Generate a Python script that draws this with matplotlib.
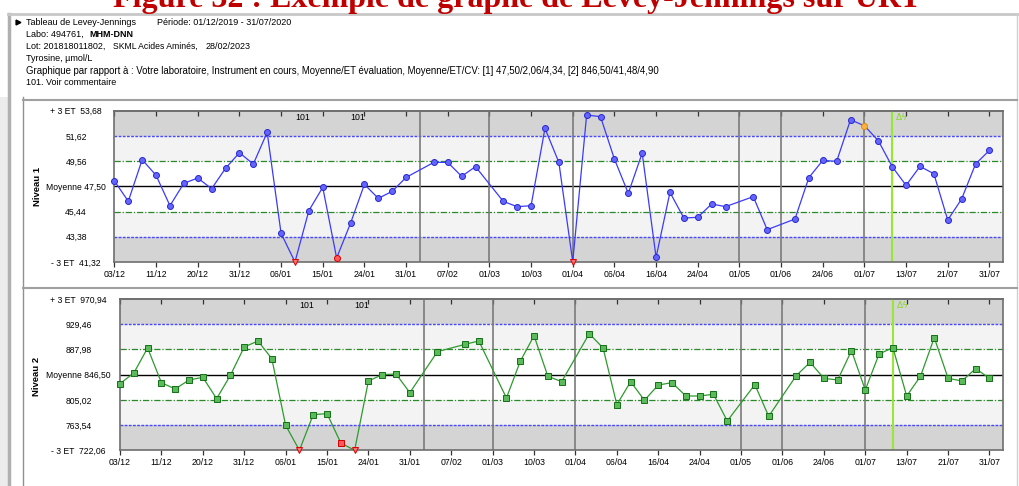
import numpy as np
import matplotlib.pyplot as plt
from matplotlib.patches import Rectangle

plt.rcParams['font.family'] = ['Liberation Sans', 'DejaVu Sans']

W, H = 1019, 486

# x axis: run index, one label every 3 runs
tick_idx = list(range(0, 64, 3))
tick_lbl = ['03/12', '11/12', '20/12', '31/12', '06/01', '15/01', '24/01', '31/01',
            '07/02', '01/03', '10/03', '01/04', '06/04', '16/04', '24/04', '01/05',
            '01/06', '24/06', '01/07', '13/07', '21/07', '31/07']
month_sep = [22, 27, 33, 45, 48, 54]
new_lot = 56
comment_runs = [13, 17]

# Niveau 1
mean1, sd1 = 47.50, 2.06
run1 = [0, 1, 2, 3, 4, 5, 6, 7, 8, 9, 10, 11, 12, 13, 14, 15, 16, 17, 18, 19, 20, 21,
        23, 24, 25, 26, 28, 29, 30, 31, 32, 33, 34, 35, 36, 37, 38, 39, 40, 41, 42, 43, 44,
        46, 47, 49, 50, 51, 52, 53, 54, 55, 56, 57, 58, 59, 60, 61, 62, 63]
niv1 = [47.94, 46.28, 49.68, 48.40, 45.92, 47.75, 48.18, 47.31, 48.97, 50.25, 49.32, 51.91,
        43.66, 40.90, 45.51, 47.42, 41.65, 44.48, 47.66, 46.52, 47.09, 48.23,
        49.46, 49.46, 48.32, 49.11, 46.27, 45.84, 45.92, 52.24, 49.46, 40.90, 53.33, 53.19,
        49.73, 46.93, 50.22, 41.70, 47.01, 44.91, 44.97, 46.06, 45.84,
        46.66, 43.96, 44.83, 48.21, 49.62, 49.54, 52.94, 52.45, 51.23, 49.11, 47.58, 49.13,
        48.53, 44.75, 46.47, 49.32, 50.44]
low1 = [13, 33]
rej1 = [16]
warn1 = [54]

# Niveau 2
mean2, sd2 = 846.50, 41.48
run2 = [0, 1, 2, 3, 4, 5, 6, 7, 8, 9, 10, 11, 12, 13, 14, 15, 16, 17, 18, 19, 20, 21,
        23, 25, 26, 28, 29, 30, 31, 32, 34, 35, 36, 37, 38, 39, 40, 41, 42, 43, 44,
        46, 47, 49, 50, 51, 52, 53, 54, 55, 56, 57, 58, 59, 60, 61, 62, 63]
niv2 = [831.7, 849.2, 890.4, 833.3, 822.9, 837.7, 842.1, 807.0, 845.4, 892.0, 901.9, 872.8,
        763.2, 715.0, 780.7, 782.4, 734.1, 715.0, 836.1, 846.5, 847.6, 816.9,
        884.3, 896.4, 901.9, 808.1, 868.4, 910.6, 843.8, 835.0, 913.9, 890.4, 797.2, 835.0,
        804.3, 829.5, 833.3, 811.4, 811.4, 814.2, 770.3,
        830.1, 778.0, 844.9, 866.8, 840.5, 837.7, 886.0, 821.3, 880.5, 890.9, 811.4, 843.8,
        907.3, 840.5, 836.1, 856.4, 840.5]
low2 = [13, 17]
rej2 = [16]
warn2 = []


def fmt(v):
    return f'{v:.2f}'.replace('.', ',')


def panel(ax, runs, vals, mean, sd, line_c, face_c, edge_c, mk, low, rej, warn, pad):
    lo, hi = mean - 3 * sd, mean + 3 * sd
    ax.set_xlim(0, 64)
    ax.set_ylim(lo, hi)
    ax.axhspan(lo, mean - 2 * sd, color='#d4d4d4', lw=0, zorder=0)
    ax.axhspan(mean + 2 * sd, hi, color='#d4d4d4', lw=0, zorder=0)
    ax.axhspan(mean - 2 * sd, mean - sd, color='#f3f3f3', lw=0, zorder=0)
    ax.axhspan(mean + sd, mean + 2 * sd, color='#f3f3f3', lw=0, zorder=0)
    for k in (-2, 2):
        ax.axhline(mean + k * sd, color='#4848ff', lw=1.0, ls=(0, (2, 1)), zorder=1)
    for k in (-1, 1):
        ax.axhline(mean + k * sd, color='#2a8a2a', lw=0.9, ls=(0, (5, 1.5, 1, 1.5)), zorder=1)
    ax.axhline(mean, color='black', lw=1.0, zorder=1)
    for m in month_sep:
        ax.axvline(m, color='#7a7a7a', lw=1.2, zorder=1)
    ax.axvline(new_lot, color='#99e633', lw=1.5, zorder=1)

    runs = np.array(runs)
    y = np.clip(vals, lo, hi)
    ax.plot(runs, y, color=line_c, lw=0.9, zorder=3)
    special = low + rej + warn
    ok = np.array([r not in special for r in runs])
    ax.plot(runs[ok], y[ok], ls='none', marker=mk, ms=4.3, mfc=face_c, mec=edge_c,
            mew=0.7, zorder=4, clip_on=False)
    for r in rej:
        ax.plot(r, y[runs == r], ls='none', marker=mk, ms=4.3, mfc='#ff5a5a',
                mec='#d00000', mew=0.7, zorder=4, clip_on=False)
    for r in warn:
        ax.plot(r, y[runs == r], ls='none', marker=mk, ms=4.3, mfc='#ffb347',
                mec='#e08a00', mew=0.7, zorder=4, clip_on=False)
    for r in low:
        ax.plot(r, y[runs == r], ls='none', marker='v', ms=4.2, mfc='#ff7070',
                mec='#e00000', mew=0.7, zorder=4, clip_on=False)

    for r in comment_runs:
        ax.text(r, 0.955, '101', fontsize=6.3, va='center', ha='left',
                transform=ax.get_xaxis_transform(), zorder=5)
    ax.text(new_lot + 0.3, 0.955, 'Δϟ', fontsize=6.5, color='#8ad82a', va='center',
            ha='left', transform=ax.get_xaxis_transform(),
            family=['DejaVu Sans'], zorder=5)

    yt = [mean + k * sd for k in (3, 2, 1, 0, -1, -2, -3)]
    yl = ['+ 3 ET  ' + fmt(yt[0]), fmt(yt[1]), fmt(yt[2]), 'Moyenne ' + fmt(mean),
          fmt(yt[4]), fmt(yt[5]), '- 3 ET  ' + fmt(yt[6])]
    ax.set_yticks(yt, yl)
    ax.tick_params(axis='y', length=0, pad=pad, labelsize=6.2)
    for t in ax.get_yticklabels():
        t.set_ha('center')
    ax.set_xticks(tick_idx, tick_lbl)
    ax.tick_params(axis='x', direction='out', length=3.4, width=0.9, pad=2.5,
                   labelsize=6.3, color='#333333')
    sec = ax.secondary_xaxis('top')
    sec.set_xticks(tick_idx)
    sec.tick_params(direction='in', length=3.6, width=0.9, labeltop=False, color='#333333')
    for s in list(ax.spines.values()) + [sec.spines['top']]:
        s.set_color('#6e6e6e')
        s.set_linewidth(1.2)


fig = plt.figure(figsize=(W / 100, H / 100), dpi=100)

# frame / header in pixel coordinates
ax0 = fig.add_axes([0, 0, 1, 1])
ax0.set_xlim(0, W)
ax0.set_ylim(H, 0)
ax0.axis('off')
ax0.add_patch(Rectangle((0, 97), 8, H - 97, fc='#ececec', ec='none'))
ax0.plot([9.5, 9.5], [14, H], color='#b0b0b0', lw=2.5)
ax0.plot([8, W], [14, 14], color='#c8c8c8', lw=2)
ax0.plot([1017.5, 1017.5], [14, H], color='#d0d0d0', lw=1)
ax0.plot([23.5, 23.5], [97, H], color='#909090', lw=1)
ax0.plot([23.5, 1017.5], [100, 100], color='#a0a0a0', lw=1.5)
ax0.plot([23.5, 1017.5], [288, 288], color='#a0a0a0', lw=1.5)
ax0.plot(18.5, 22.5, marker='>', color='black', ms=3.5)

ax0.text(113, 7, 'Figure 32 : Exemple de graphe de Levey-Jennings sur URT',
         fontsize=23, color='#c00000', fontweight='bold', family=['Liberation Serif'],
         va='baseline', ha='left')

hdr = dict(fontsize=6.5, va='center', ha='left')
ax0.text(26, 22.5, 'Tableau de Levey-Jennings', **hdr)
ax0.text(157, 22.5, 'Période: 01/12/2019 - 31/07/2020', **hdr)
ax0.text(26, 34.5, 'Labo: 494761,', **hdr)
ax0.text(89, 34.5, 'MHM-DNN', fontweight='bold', **hdr)
ax0.text(26, 46.5, 'Lot: 201818011802,', **hdr)
ax0.text(113, 46.5, 'SKML Acides Aminés,', fontsize=6.2, va='center', ha='left')
ax0.text(206, 46.5, '28/02/2023', **hdr)
ax0.text(26, 58.5, 'Tyrosine, µmol/L', **hdr)
ax0.text(26, 70.5, 'Graphique par rapport à : Votre laboratoire, Instrument en cours, '
         'Moyenne/ET évaluation, Moyenne/ET/CV: [1] 47,50/2,06/4,34, [2] 846,50/41,48/4,90',
         fontsize=6.9, va='center', ha='left')
ax0.text(26, 82.5, '101. Voir commentaire', **hdr)

ax0.text(38, 186, 'Niveau 1', rotation=90, fontsize=6.8, fontweight='bold',
         va='center', ha='center')
ax0.text(37, 376, 'Niveau 2', rotation=90, fontsize=6.8, fontweight='bold',
         va='center', ha='center')

ax1 = fig.add_axes([114.4 / W, 1 - 262 / H, 888.9 / W, 151.3 / H])
panel(ax1, run1, niv1, mean1, sd1, '#3a3aff', '#6464ff', '#2828c8', 'o',
      low1, rej1, warn1, pad=27.6)

ax2 = fig.add_axes([120 / W, 1 - 450.3 / H, 883.3 / W, 151.3 / H])
panel(ax2, run2, niv2, mean2, sd2, '#2e9a2e', '#5cba5c', '#137013', 's',
      low2, rej2, warn2, pad=29.9)

fig.savefig('out.png', dpi=100)
